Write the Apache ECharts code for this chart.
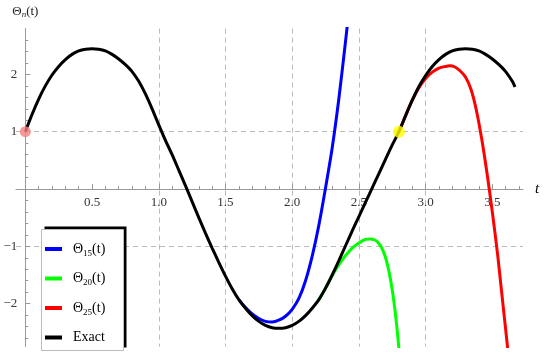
<!DOCTYPE html>
<html>
<head>
<meta charset="utf-8">
<script src="https://cdn.jsdelivr.net/npm/echarts@6/dist/echarts.min.js"></script>
<style>
  html, body { margin: 0; padding: 0; background: #fff; }
  #chart { width: 550px; height: 358px; }
</style>
</head>
<body>
<div id="chart"></div>
<script>
// exact solution
var exactT = [0, 0.05, 0.1, 0.15, 0.2, 0.25, 0.3, 0.35, 0.4, 0.45, 0.5, 0.55, 0.6, 0.65, 0.7, 0.75, 0.8, 0.85, 0.9, 0.95,
  1.0, 1.05, 1.1, 1.15, 1.2, 1.25, 1.3, 1.35, 1.4, 1.45, 1.5, 1.55, 1.6, 1.65, 1.7, 1.75, 1.8, 1.85, 1.9, 1.95,
  2.0, 2.05, 2.1, 2.15, 2.2, 2.25, 2.3, 2.35, 2.4, 2.45, 2.5, 2.55, 2.6, 2.65, 2.7, 2.75, 2.8, 2.85, 2.9, 2.95,
  3.0, 3.05, 3.1, 3.15, 3.2, 3.25, 3.3, 3.35, 3.4, 3.45, 3.5, 3.55, 3.6, 3.65, 3.67];
var exactY = [1.00, 1.30, 1.57, 1.80, 1.99, 2.14, 2.26, 2.35, 2.41, 2.44, 2.45, 2.44, 2.41, 2.35, 2.27, 2.17, 2.05, 1.88, 1.66, 1.40,
  1.12, 0.85, 0.60, 0.33, 0.06, -0.22, -0.50, -0.77, -1.03, -1.28, -1.52, -1.74, -1.93, -2.08, -2.21, -2.31, -2.38, -2.42, -2.43, -2.42,
  -2.38, -2.31, -2.21, -2.08, -1.93, -1.73, -1.50, -1.25, -0.99, -0.73, -0.48, -0.23, 0.02, 0.27, 0.52, 0.77, 1.00, 1.28, 1.55, 1.79,
  1.98, 2.14, 2.26, 2.35, 2.41, 2.44, 2.45, 2.44, 2.41, 2.35, 2.27, 2.17, 2.05, 1.88, 1.78];

// approximations (only the part that leaves the exact curve)
var theta15T = [1.6, 1.65, 1.7, 1.75, 1.8, 1.85, 1.9, 1.95, 2.0, 2.05, 2.1, 2.15, 2.2, 2.25, 2.3, 2.35, 2.4, 2.42];
var theta15Y = [-1.93, -2.07, -2.18, -2.26, -2.31, -2.32, -2.29, -2.22, -2.10, -1.91, -1.60, -1.17, -0.63, 0.02, 0.72, 1.58, 2.58, 3.0];

var theta20T = [2.2, 2.25, 2.3, 2.35, 2.4, 2.45, 2.5, 2.55, 2.58, 2.62, 2.65, 2.68, 2.71, 2.74, 2.77, 2.8];
var theta20Y = [-1.93, -1.73, -1.51, -1.32, -1.16, -1.03, -0.94, -0.88, -0.87, -0.89, -0.95, -1.07, -1.28, -1.62, -2.1, -2.78];

var theta25T = [2.8, 2.85, 2.9, 2.95, 3.0, 3.05, 3.1, 3.15, 3.18, 3.22, 3.26, 3.3, 3.34, 3.38, 3.42, 3.46, 3.5, 3.54, 3.57, 3.6, 3.615];
var theta25Y = [1.00, 1.28, 1.55, 1.77, 1.93, 2.04, 2.11, 2.14, 2.15, 2.13, 2.06, 1.95, 1.74, 1.38, 0.88, 0.28, -0.40, -1.15, -1.80, -2.45, -2.78];

var startPoint = [0, 1];
var markPoint = [2.8, 1];

var xTicks = [0.5, 1, 1.5, 2, 2.5, 3, 3.5];
var yTicks = [-2, -1, 1, 2];

var serif = 'Liberation Serif';

// plot window
var xMin = -0.07, xMax = 3.73, yMin = -2.75, yMax = 2.8;
var gridBox = { left: 16, right: 27, top: 28.6, bottom: 11.4 };
var plotW = 550 - gridBox.left - gridBox.right;
var plotH = 358 - gridBox.top - gridBox.bottom;
// move the axes from the grid edges onto the zero lines
var xAxisShift = -plotH * (0 - yMin) / (yMax - yMin);
var yAxisShift = -plotW * (0 - xMin) / (xMax - xMin);

function zip(t, y) {
  var out = [];
  for (var i = 0; i < t.length; i++) out.push([t[i], y[i]]);
  return out;
}

function lineSeries(name, color, t, y) {
  return {
    name: name,
    type: 'line',
    data: zip(t, y),
    showSymbol: false,
    smooth: 0.3,
    lineStyle: { color: color, width: 3 },
    itemStyle: { color: color },
    z: 2
  };
}

var chart = echarts.init(document.getElementById('chart'));

var option = {
  animation: false,
  grid: { left: gridBox.left, right: gridBox.right, top: gridBox.top, bottom: gridBox.bottom, outerBoundsMode: 'none', containLabel: false },
  xAxis: {
    type: 'value',
    position: 'bottom',
    offset: xAxisShift,
    min: xMin,
    max: xMax,
    minInterval: 0.5,
    maxInterval: 0.5,
    name: 't',
    nameLocation: 'end',
    nameGap: 12,
    nameTextStyle: { fontFamily: serif, fontStyle: 'italic', fontSize: 15, color: '#000' },
    axisLine: { onZero: false, lineStyle: { color: '#999', width: 1 } },
    axisTick: { show: true, inside: true, length: 5, customValues: xTicks, lineStyle: { color: '#999' } },
    minorTick: { show: true, splitNumber: 5, length: 3, lineStyle: { color: '#999' } },
    axisLabel: {
      customValues: xTicks,
      margin: 7,
      color: '#333',
      fontFamily: serif,
      fontSize: 13,
      formatter: function (v) {
        if (v < 0.01 || Math.abs(v * 2 - Math.round(v * 2)) > 1e-6) return '';
        return v.toFixed(1);
      }
    },
    splitLine: { show: true, showMinLine: false, showMaxLine: false, lineStyle: { color: '#bbb', type: [5, 4], width: 1 } }
  },
  yAxis: {
    type: 'value',
    position: 'left',
    offset: yAxisShift,
    min: yMin,
    max: yMax,
    minInterval: 1,
    maxInterval: 1,
    name: '{a|Θ}{n|n}{a|(t)}',
    nameLocation: 'end',
    nameGap: 9,
    nameTextStyle: {
      align: 'center',
      rich: {
        a: { fontFamily: serif, fontSize: 13, color: '#222', lineHeight: 16 },
        n: { fontFamily: serif, fontSize: 9, fontStyle: 'italic', color: '#222', lineHeight: 10, verticalAlign: 'bottom' }
      }
    },
    axisLine: { onZero: false, lineStyle: { color: '#999', width: 1 } },
    axisTick: { show: true, inside: true, length: 5, customValues: yTicks, lineStyle: { color: '#999' } },
    minorTick: { show: true, splitNumber: 5, length: 3, lineStyle: { color: '#999' } },
    axisLabel: {
      customValues: yTicks,
      margin: 8,
      color: '#333',
      fontFamily: serif,
      fontSize: 13,
      formatter: function (v) {
        if (Math.abs(v) < 0.01 || Math.abs(v - Math.round(v)) > 1e-6) return '';
        return v < 0 ? '\u2212' + Math.abs(v) : String(v);
      }
    },
    splitLine: { show: true, showMinLine: false, showMaxLine: false, lineStyle: { color: '#bbb', type: [5, 4], width: 1 } }
  },
  legend: {
    data: ['Θ15(t)', 'Θ20(t)', 'Θ25(t)', 'Exact'],
    orient: 'vertical',
    left: 45,
    top: 242,
    padding: 0,
    itemGap: 13.5,
    itemWidth: 17,
    itemHeight: 4,
    icon: 'rect',
    selectedMode: false,
    z: 5,
    formatter: function (name) {
      var m = name.match(/^Θ(\d+)\(t\)$/);
      if (m) return '{g|}{a|Θ}{s|' + m[1] + '}{a|(t)}';
      return '{g|}{a|' + name + '}';
    },
    textStyle: {
      rich: {
        g: { width: 6 },
        a: { fontFamily: serif, fontSize: 14, color: '#000', lineHeight: 18 },
        s: { fontFamily: serif, fontSize: 9, color: '#000', lineHeight: 12, verticalAlign: 'bottom' }
      }
    }
  },
  graphic: {
    elements: [
      { type: 'rect', z: 3, shape: { x: 44.5, y: 226.5, width: 82, height: 121 }, style: { fill: '#000' } },
      { type: 'rect', z: 3, shape: { x: 41.5, y: 229.5, width: 82, height: 121 }, style: { fill: '#fff', stroke: '#bbb', lineWidth: 1 } }
    ]
  },
  series: [
    lineSeries('Θ15(t)', '#0000ff', theta15T, theta15Y),
    lineSeries('Θ20(t)', '#00ff00', theta20T, theta20Y),
    lineSeries('Θ25(t)', '#ff0000', theta25T, theta25Y),
    lineSeries('Exact', '#000000', exactT, exactY),
    {
      type: 'scatter',
      data: [startPoint],
      symbolSize: 11,
      itemStyle: { color: '#f48080' },
      z: 4
    },
    {
      type: 'scatter',
      data: [markPoint],
      symbolSize: 12,
      itemStyle: { color: '#ffff00' },
      z: 4
    }
  ]
};

chart.setOption(option);
</script>
</body>
</html>
